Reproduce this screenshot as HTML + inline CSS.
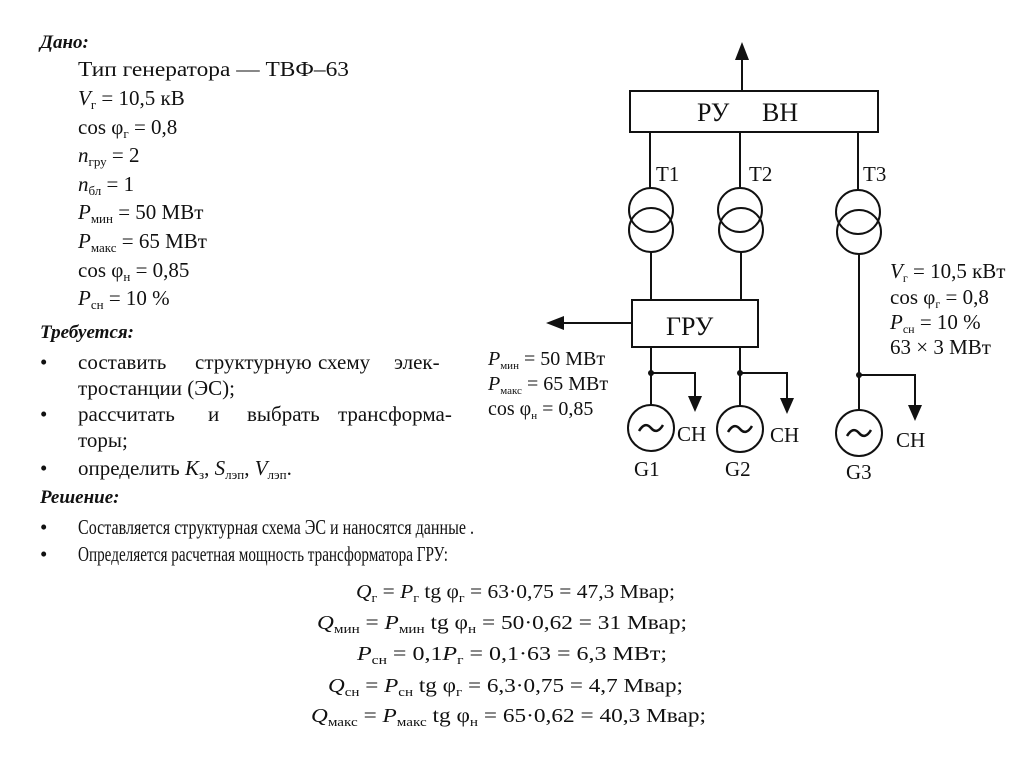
<!DOCTYPE html>
<html><head><meta charset="utf-8"><style>
html,body{margin:0;padding:0;background:#fff}
svg{display:block}
text{font-family:"Liberation Serif","Noto Serif CJK SC",serif;fill:#111}
.b{font-weight:bold;font-style:italic}
.i{font-style:italic}
</style></head><body>
<svg width="1024" height="768" viewBox="0 0 1024 768" xmlns="http://www.w3.org/2000/svg">
<rect width="1024" height="768" fill="#fff"/>
<g font-size="21">
<text x="40" y="48" class="b" font-size="19">Дано:</text>
<text x="78" y="76" textLength="271" lengthAdjust="spacingAndGlyphs">Тип генератора — ТВФ–63</text>
<text x="78" y="105"><tspan class="i">V</tspan><tspan font-size="13" dy="4">г</tspan><tspan dy="-4"> = 10,5 кВ</tspan></text>
<text x="78" y="134">cos φ<tspan font-size="13" dy="4">г</tspan><tspan dy="-4"> = 0,8</tspan></text>
<text x="78" y="162"><tspan class="i">n</tspan><tspan font-size="13" dy="4">гру</tspan><tspan dy="-4"> = 2</tspan></text>
<text x="78" y="191"><tspan class="i">n</tspan><tspan font-size="13" dy="4">бл</tspan><tspan dy="-4"> = 1</tspan></text>
<text x="78" y="219"><tspan class="i">P</tspan><tspan font-size="13" dy="4">мин</tspan><tspan dy="-4"> = 50 МВт</tspan></text>
<text x="78" y="248"><tspan class="i">P</tspan><tspan font-size="13" dy="4">макс</tspan><tspan dy="-4"> = 65 МВт</tspan></text>
<text x="78" y="277">cos φ<tspan font-size="13" dy="4">н</tspan><tspan dy="-4"> = 0,85</tspan></text>
<text x="78" y="305"><tspan class="i">P</tspan><tspan font-size="13" dy="4">сн</tspan><tspan dy="-4"> = 10 %</tspan></text>
<text x="40" y="338" class="b" font-size="19">Требуется:</text>
<text x="40" y="369">•</text>
<text x="78" y="369">составить</text><text x="195" y="369">структурную</text><text x="318" y="369">схему</text><text x="394" y="369">элек-</text>
<text x="78" y="395">тростанции (ЭС);</text>
<text x="40" y="421">•</text>
<text x="78" y="421">рассчитать</text><text x="208" y="421">и</text><text x="247" y="421">выбрать</text><text x="338" y="421">трансформа-</text>
<text x="78" y="447">торы;</text>
<text x="40" y="475">•</text>
<text x="78" y="475">определить <tspan class="i">K</tspan><tspan font-size="13" dy="4">з</tspan><tspan dy="-4">, </tspan><tspan class="i">S</tspan><tspan font-size="13" dy="4">лэп</tspan><tspan dy="-4">, </tspan><tspan class="i">V</tspan><tspan font-size="13" dy="4">лэп</tspan><tspan dy="-4">.</tspan></text>
<text x="40" y="503" class="b" font-size="19">Решение:</text>
<text x="40" y="534">•</text>
<text x="78" y="534" textLength="396" lengthAdjust="spacingAndGlyphs">Составляется структурная схема ЭС и наносятся данные .</text>
<text x="40" y="561">•</text>
<text x="78" y="561" textLength="370" lengthAdjust="spacingAndGlyphs">Определяется расчетная мощность трансформатора ГРУ:</text>
</g>
<g font-size="20">
<text x="356" y="598" textLength="319" lengthAdjust="spacingAndGlyphs"><tspan class="i">Q</tspan><tspan font-size="13" dy="4">г</tspan><tspan dy="-4"> = </tspan><tspan class="i">P</tspan><tspan font-size="13" dy="4">г</tspan><tspan dy="-4"> tg φ</tspan><tspan font-size="13" dy="4">г</tspan><tspan dy="-4"> = 63·0,75 = 47,3 Мвар;</tspan></text>
<text x="317" y="629" textLength="370" lengthAdjust="spacingAndGlyphs"><tspan class="i">Q</tspan><tspan font-size="13" dy="4">мин</tspan><tspan dy="-4"> = </tspan><tspan class="i">P</tspan><tspan font-size="13" dy="4">мин</tspan><tspan dy="-4"> tg φ</tspan><tspan font-size="13" dy="4">н</tspan><tspan dy="-4"> = 50·0,62 = 31 Мвар;</tspan></text>
<text x="357" y="660" textLength="310" lengthAdjust="spacingAndGlyphs"><tspan class="i">P</tspan><tspan font-size="13" dy="4">сн</tspan><tspan dy="-4"> = 0,1</tspan><tspan class="i">P</tspan><tspan font-size="13" dy="4">г</tspan><tspan dy="-4"> = 0,1·63 = 6,3 МВт;</tspan></text>
<text x="328" y="692" textLength="355" lengthAdjust="spacingAndGlyphs"><tspan class="i">Q</tspan><tspan font-size="13" dy="4">сн</tspan><tspan dy="-4"> = </tspan><tspan class="i">P</tspan><tspan font-size="13" dy="4">сн</tspan><tspan dy="-4"> tg φ</tspan><tspan font-size="13" dy="4">г</tspan><tspan dy="-4"> = 6,3·0,75 = 4,7 Мвар;</tspan></text>
<text x="311" y="722" textLength="395" lengthAdjust="spacingAndGlyphs"><tspan class="i">Q</tspan><tspan font-size="13" dy="4">макс</tspan><tspan dy="-4"> = </tspan><tspan class="i">P</tspan><tspan font-size="13" dy="4">макс</tspan><tspan dy="-4"> tg φ</tspan><tspan font-size="13" dy="4">н</tspan><tspan dy="-4"> = 65·0,62 = 40,3 Мвар;</tspan></text>
</g>
<g stroke="#111" stroke-width="2" fill="none">
<line x1="742" y1="55" x2="742" y2="91"/>
<rect x="630" y="91" width="248" height="41"/>
<line x1="650" y1="132" x2="650" y2="188"/>
<line x1="740" y1="132" x2="740" y2="187"/>
<line x1="858" y1="132" x2="858" y2="190"/>
<circle cx="651" cy="210" r="22"/><circle cx="651" cy="230" r="22"/>
<circle cx="740" cy="210" r="22"/><circle cx="741" cy="230" r="22"/>
<circle cx="858" cy="212" r="22"/><circle cx="859" cy="232" r="22"/>
<line x1="651" y1="252" x2="651" y2="300"/>
<line x1="741" y1="252" x2="741" y2="300"/>
<line x1="859" y1="254" x2="859" y2="410"/>
<rect x="632" y="300" width="126" height="47"/>
<line x1="560" y1="323" x2="632" y2="323"/>
<line x1="651" y1="347" x2="651" y2="405"/>
<line x1="740" y1="347" x2="740" y2="406"/>
<polyline points="651,373 695,373 695,398"/>
<polyline points="740,373 787,373 787,400"/>
<polyline points="859,375 915,375 915,408"/>
<circle cx="651" cy="428" r="23"/>
<circle cx="740" cy="429" r="23"/>
<circle cx="859" cy="433" r="23"/>
<path d="M639,431 q6,-10 12,-3 t12,-3" stroke-width="2.5"/>
<path d="M728,432 q6,-10 12,-3 t12,-3" stroke-width="2.5"/>
<path d="M847,436 q6,-10 12,-3 t12,-3" stroke-width="2.5"/>
</g>
<g fill="#111">
<polygon points="742,42 735,60 749,60"/>
<polygon points="546,323 564,316 564,330"/>
<polygon points="695,412 688,396 702,396"/>
<polygon points="787,414 780,398 794,398"/>
<polygon points="915,421 908,405 922,405"/>
<circle cx="651" cy="373" r="3"/><circle cx="740" cy="373" r="3"/><circle cx="859" cy="375" r="3"/>
</g>
<g font-size="21">
<text x="697" y="121" font-size="26">РУ</text>
<text x="762" y="121" font-size="26">ВН</text>
<text x="666" y="335" font-size="26">ГРУ</text>
<text x="656" y="181">Т1</text><text x="749" y="181">Т2</text><text x="863" y="181">Т3</text>
<text x="677" y="441">СН</text><text x="770" y="442">СН</text><text x="896" y="447">СН</text>
<text x="634" y="476">G1</text><text x="725" y="476">G2</text><text x="846" y="479">G3</text>
<text x="890" y="278"><tspan class="i">V</tspan><tspan font-size="12" dy="4">г</tspan><tspan dy="-4"> = 10,5 кВт</tspan></text>
<text x="890" y="304">cos φ<tspan font-size="12" dy="4">г</tspan><tspan dy="-4"> = 0,8</tspan></text>
<text x="890" y="329"><tspan class="i">P</tspan><tspan font-size="12" dy="4">сн</tspan><tspan dy="-4"> = 10 %</tspan></text>
<text x="890" y="354">63 × 3 МВт</text>
<text x="488" y="365" font-size="20"><tspan class="i">P</tspan><tspan font-size="11" dy="4">мин</tspan><tspan dy="-4"> = 50 МВт</tspan></text>
<text x="488" y="390" font-size="20"><tspan class="i">P</tspan><tspan font-size="11" dy="4">макс</tspan><tspan dy="-4"> = 65 МВт</tspan></text>
<text x="488" y="415" font-size="20">cos φ<tspan font-size="11" dy="4">н</tspan><tspan dy="-4"> = 0,85</tspan></text>
</g>
</svg>
</body></html>
